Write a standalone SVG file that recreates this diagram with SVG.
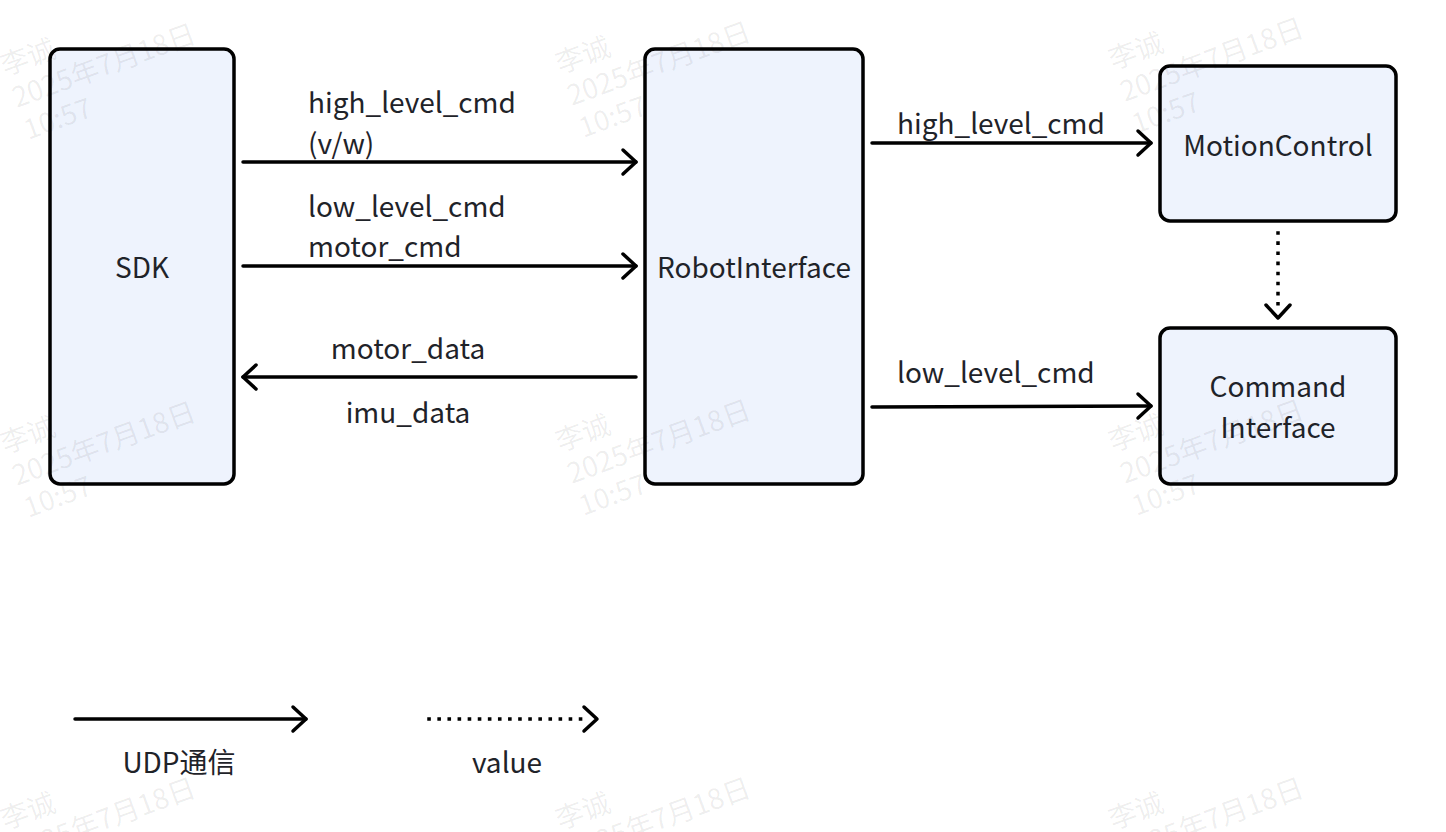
<svg xmlns="http://www.w3.org/2000/svg" width="1446" height="832" viewBox="0 0 1446 832">
<style>
.node{fill:#eef3fd;stroke:#000;stroke-width:3.5}
.t{font-family:"Noto Sans CJK SC","Noto Sans",sans-serif;font-size:28px;fill:#1f2329}
.c{text-anchor:middle}
.e{stroke:#000;stroke-width:3.5;fill:none;stroke-linecap:round}
.d{stroke-dasharray:0.1 10;stroke-linecap:square}
.h{stroke:#000;stroke-width:3.5;fill:none;stroke-linecap:round;stroke-linejoin:round}
.wm{font-family:"Noto Sans CJK SC","Noto Sans",sans-serif;font-size:28px;fill:#000;fill-opacity:0.07}
</style>
<rect width="1446" height="832" fill="#fff"/>
<g id="connectors">
<path class="e" d="M243 162H636"/><path class="h" d="M623 150L636 162L623 174"/>
<path class="e" d="M243 266H636"/><path class="h" d="M623 254L636 266L623 278"/>
<path class="e" d="M636 377H243"/><path class="h" d="M256 365L243 377L256 389"/>
<path class="e" d="M872 143H1151"/><path class="h" d="M1138 131L1151 143L1138 155"/>
<path class="e" d="M872 407L1151 406"/><path class="h" d="M1138 394L1151 406L1138 418"/>
<path class="e d" d="M1278 233V312"/><path class="h" d="M1266 305L1278 318L1290 305"/>
<text class="t" x="308" y="113">high_level_cmd</text>
<text class="t" x="308" y="154">(v/w)</text>
<text class="t" x="308" y="217">low_level_cmd</text>
<text class="t" x="308" y="257">motor_cmd</text>
<text class="t c" x="408" y="359">motor_data</text>
<text class="t c" x="408" y="423">imu_data</text>
<text class="t" x="897" y="134">high_level_cmd</text>
<text class="t" x="897" y="383">low_level_cmd</text>
</g>
<g id="SDK"><rect class="node" x="50" y="49" width="184" height="435" rx="10"/><text class="t c" x="142" y="278">SDK</text></g>
<g id="RobotInterface"><rect class="node" x="645" y="49" width="218" height="435" rx="10"/><text class="t c" x="754" y="278">RobotInterface</text></g>
<g id="MotionControl"><rect class="node" x="1160" y="66" width="236" height="155" rx="10"/><text class="t c" x="1278" y="156">MotionControl</text></g>
<g id="CommandInterface"><rect class="node" x="1160" y="328" width="236" height="156" rx="10"/><text class="t c" x="1278" y="397">Command</text><text class="t c" x="1278" y="438">Interface</text></g>
<g id="legend">
<path class="e" d="M75 719H306"/><path class="h" d="M293 707L306 719L293 731"/>
<text class="t c" x="179" y="773">UDP通信</text>
<path class="e d" d="M429 719H590"/><path class="h" d="M584 707L597 719L584 731"/>
<text class="t c" x="507" y="773">value</text>
</g>
<g id="watermarks">
<g transform="translate(5,76) rotate(-20)"><text class="wm" x="0" y="0">李诚</text><text class="wm" x="0" y="34">2025年7月18日</text><text class="wm" x="0" y="68">10:57</text></g>
<g transform="translate(560,74) rotate(-20)"><text class="wm" x="0" y="0">李诚</text><text class="wm" x="0" y="34">2025年7月18日</text><text class="wm" x="0" y="68">10:57</text></g>
<g transform="translate(1113,70) rotate(-20)"><text class="wm" x="0" y="0">李诚</text><text class="wm" x="0" y="34">2025年7月18日</text><text class="wm" x="0" y="68">10:57</text></g>
<g transform="translate(5,454) rotate(-20)"><text class="wm" x="0" y="0">李诚</text><text class="wm" x="0" y="34">2025年7月18日</text><text class="wm" x="0" y="68">10:57</text></g>
<g transform="translate(560,452) rotate(-20)"><text class="wm" x="0" y="0">李诚</text><text class="wm" x="0" y="34">2025年7月18日</text><text class="wm" x="0" y="68">10:57</text></g>
<g transform="translate(1113,452) rotate(-20)"><text class="wm" x="0" y="0">李诚</text><text class="wm" x="0" y="34">2025年7月18日</text><text class="wm" x="0" y="68">10:57</text></g>
<g transform="translate(5,830) rotate(-20)"><text class="wm" x="0" y="0">李诚</text><text class="wm" x="0" y="34">2025年7月18日</text></g>
<g transform="translate(560,830) rotate(-20)"><text class="wm" x="0" y="0">李诚</text><text class="wm" x="0" y="34">2025年7月18日</text></g>
<g transform="translate(1113,830) rotate(-20)"><text class="wm" x="0" y="0">李诚</text><text class="wm" x="0" y="34">2025年7月18日</text></g>
</g>
</svg>
